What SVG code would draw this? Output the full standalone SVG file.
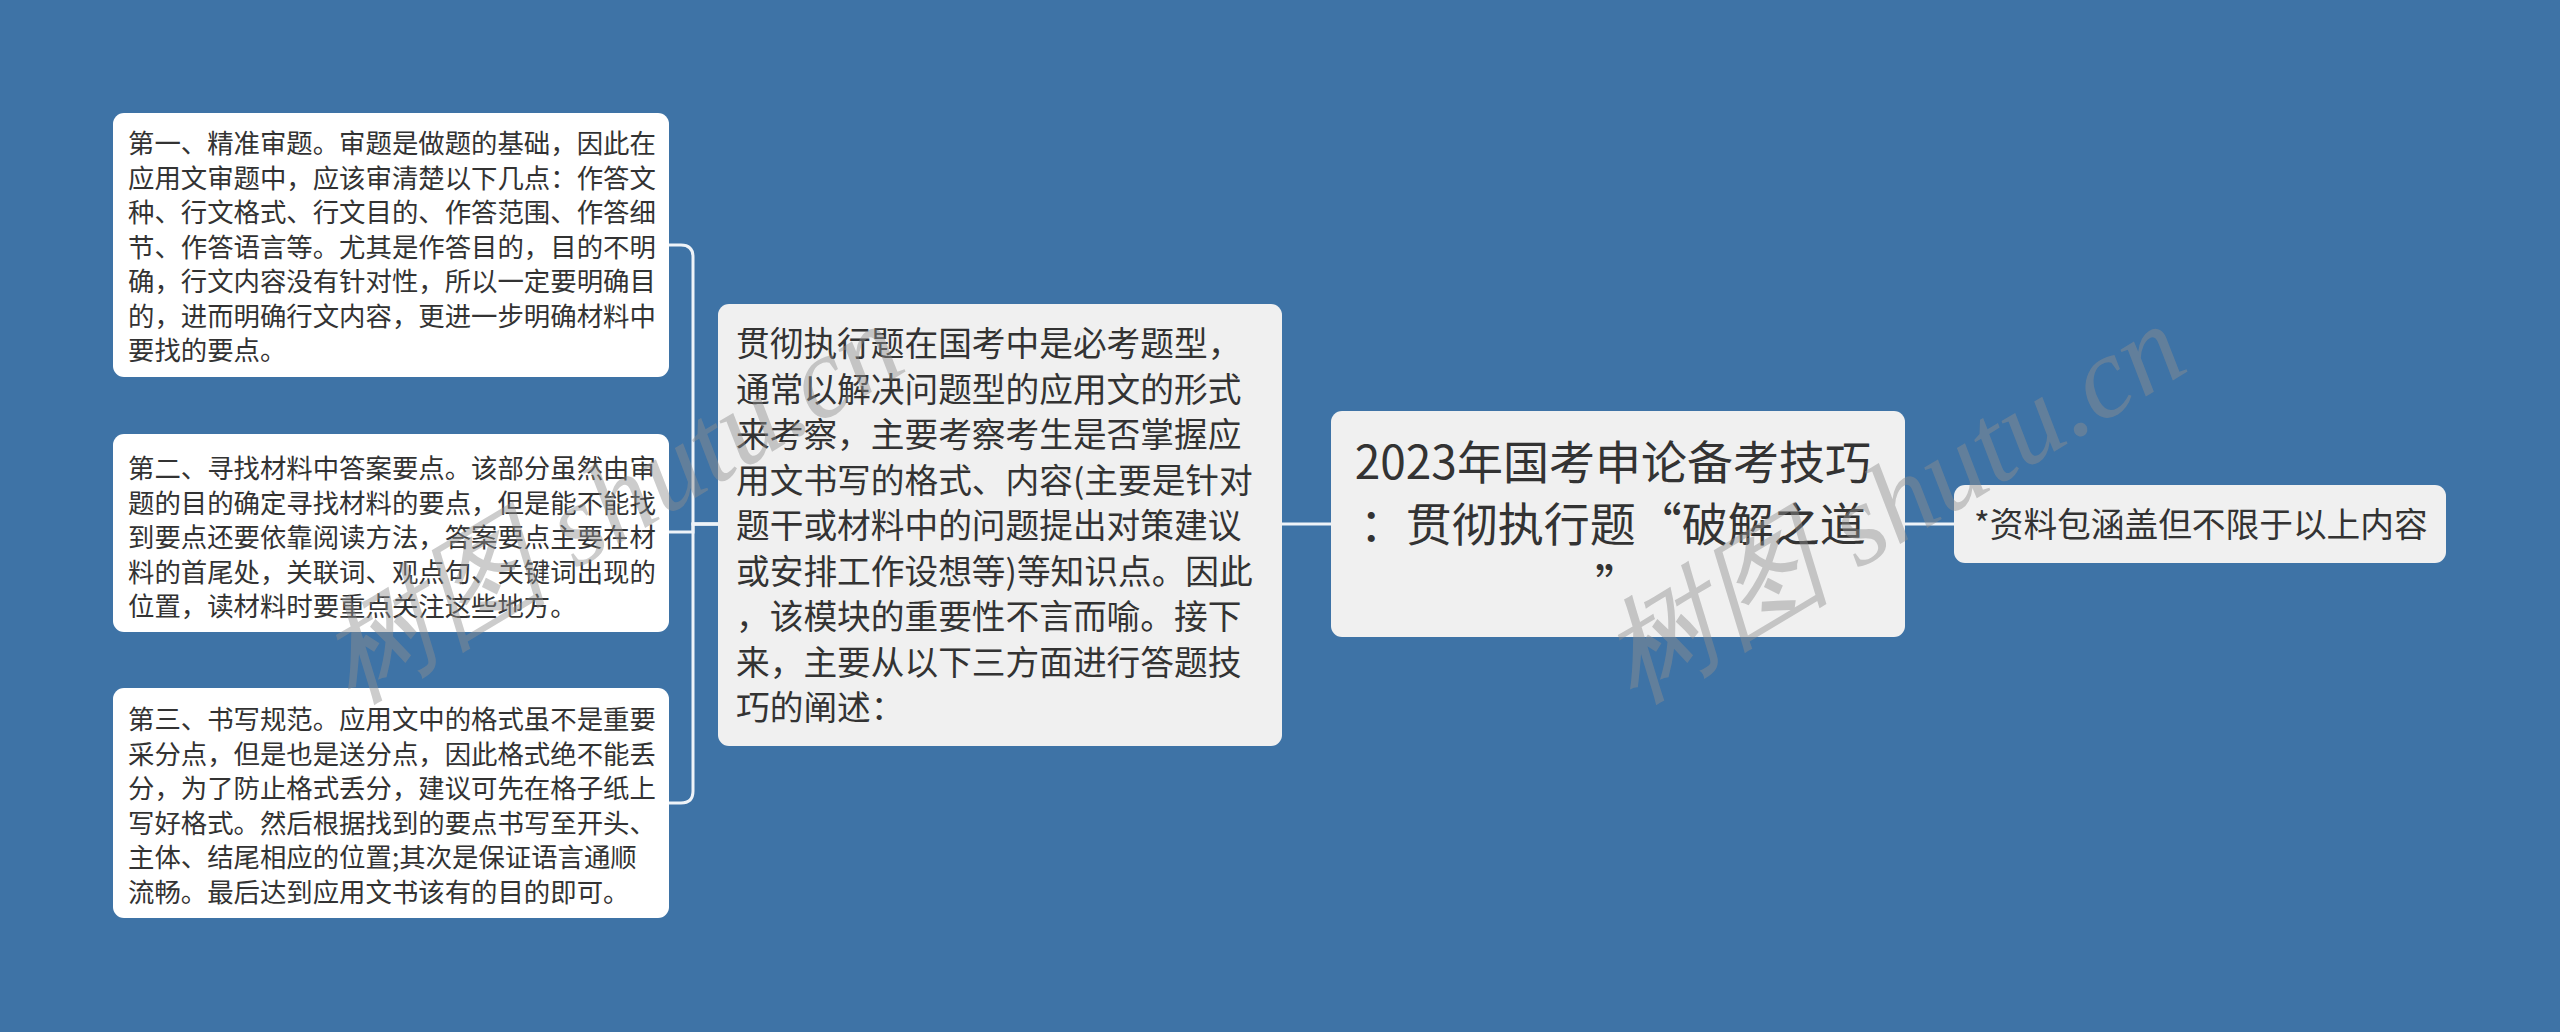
<svg xmlns="http://www.w3.org/2000/svg" width="2560" height="1032" viewBox="0 0 2560 1032">
<style>
.bg{fill:#3e73a6}
.leaf{fill:#ffffff}
.box{fill:#f0f0f0}
.conn{fill:none;stroke:#eef3f8;stroke-width:3}
text{font-family:"Noto Sans CJK SC","Noto Sans",sans-serif;fill:#333333}
.t1{font-size:26.4px}
.t2{font-size:33.7px}
.t3{font-size:46px}
.wm{font-family:"Liberation Serif","DejaVu Serif",serif;font-style:italic;font-size:116px;fill:#8f8f8f;opacity:0.45}
</style>
<rect class="bg" x="0" y="0" width="2560" height="1032"/>
<g id="connectors">
<path class="conn" d="M718 524 H693 V257 Q693 245 681 245 H669"/>
<path class="conn" d="M718 524 H693 V532 H669"/>
<path class="conn" d="M718 524 H693 V791 Q693 803 681 803 H669"/>
<path class="conn" d="M1282 524 H1331"/>
<path class="conn" d="M1905 524 H1954"/>
</g>
<g id="node-1">
<rect class="leaf" x="113" y="113" width="556" height="264" rx="11"/>
<text class="t1" x="128" y="153">
<tspan x="128" y="153">第一、精准审题。审题是做题的基础，因此在</tspan>
<tspan x="128" dy="34.5">应用文审题中，应该审清楚以下几点：作答文</tspan>
<tspan x="128" dy="34.5">种、行文格式、行文目的、作答范围、作答细</tspan>
<tspan x="128" dy="34.5">节、作答语言等。尤其是作答目的，目的不明</tspan>
<tspan x="128" dy="34.5">确，行文内容没有针对性，所以一定要明确目</tspan>
<tspan x="128" dy="34.5">的，进而明确行文内容，更进一步明确材料中</tspan>
<tspan x="128" dy="34.5">要找的要点。</tspan>
</text>
</g>
<g id="node-2">
<rect class="leaf" x="113" y="434" width="556" height="198" rx="11"/>
<text class="t1" x="128" y="478">
<tspan x="128" y="478">第二、寻找材料中答案要点。该部分虽然由审</tspan>
<tspan x="128" dy="34.5">题的目的确定寻找材料的要点，但是能不能找</tspan>
<tspan x="128" dy="34.5">到要点还要依靠阅读方法，答案要点主要在材</tspan>
<tspan x="128" dy="34.5">料的首尾处，关联词、观点句、关键词出现的</tspan>
<tspan x="128" dy="34.5">位置，读材料时要重点关注这些地方。</tspan>
</text>
</g>
<g id="node-3">
<rect class="leaf" x="113" y="688" width="556" height="230" rx="11"/>
<text class="t1" x="128" y="729">
<tspan x="128" y="729">第三、书写规范。应用文中的格式虽不是重要</tspan>
<tspan x="128" dy="34.5">采分点，但是也是送分点，因此格式绝不能丢</tspan>
<tspan x="128" dy="34.5">分，为了防止格式丢分，建议可先在格子纸上</tspan>
<tspan x="128" dy="34.5">写好格式。然后根据找到的要点书写至开头、</tspan>
<tspan x="128" dy="34.5">主体、结尾相应的位置;其次是保证语言通顺</tspan>
<tspan x="128" dy="34.5">流畅。最后达到应用文书该有的目的即可。</tspan>
</text>
</g>
<g id="node-middle">
<rect class="box" x="718" y="304" width="564" height="442" rx="11"/>
<text class="t2" x="736" y="356">
<tspan x="736" y="356">贯彻执行题在国考中是必考题型，</tspan>
<tspan x="736" dy="45.5">通常以解决问题型的应用文的形式</tspan>
<tspan x="736" dy="45.5">来考察，主要考察考生是否掌握应</tspan>
<tspan x="736" dy="45.5">用文书写的格式、内容(主要是针对</tspan>
<tspan x="736" dy="45.5">题干或材料中的问题提出对策建议</tspan>
<tspan x="736" dy="45.5">或安排工作设想等)等知识点。因此</tspan>
<tspan x="736" dy="45.5">，该模块的重要性不言而喻。接下</tspan>
<tspan x="736" dy="45.5">来，主要从以下三方面进行答题技</tspan>
<tspan x="736" dy="45.5">巧的阐述：</tspan>
</text>
</g>
<g id="node-root">
<rect class="box" x="1331" y="411" width="574" height="226" rx="11"/>
<text class="t3" text-anchor="middle" x="1618" y="479">
<tspan x="1618" y="479">2023年国考申论备考技巧</tspan>
<tspan x="1618" dy="62">：贯彻执行题“破解之道</tspan>
<tspan x="1618" dy="62">”</tspan>
</text>
</g>
<g id="node-right">
<rect class="box" x="1954" y="485" width="492" height="78" rx="11"/>
<text class="t2" x="1974" y="537">*资料包涵盖但不限于以上内容</text>
</g>
<g id="watermark">
<text class="wm" transform="translate(352 704) rotate(-31)">树图 shutu.cn</text>
<text class="wm" transform="translate(1634 704) rotate(-31)">树图 shutu.cn</text>
</g>
</svg>
